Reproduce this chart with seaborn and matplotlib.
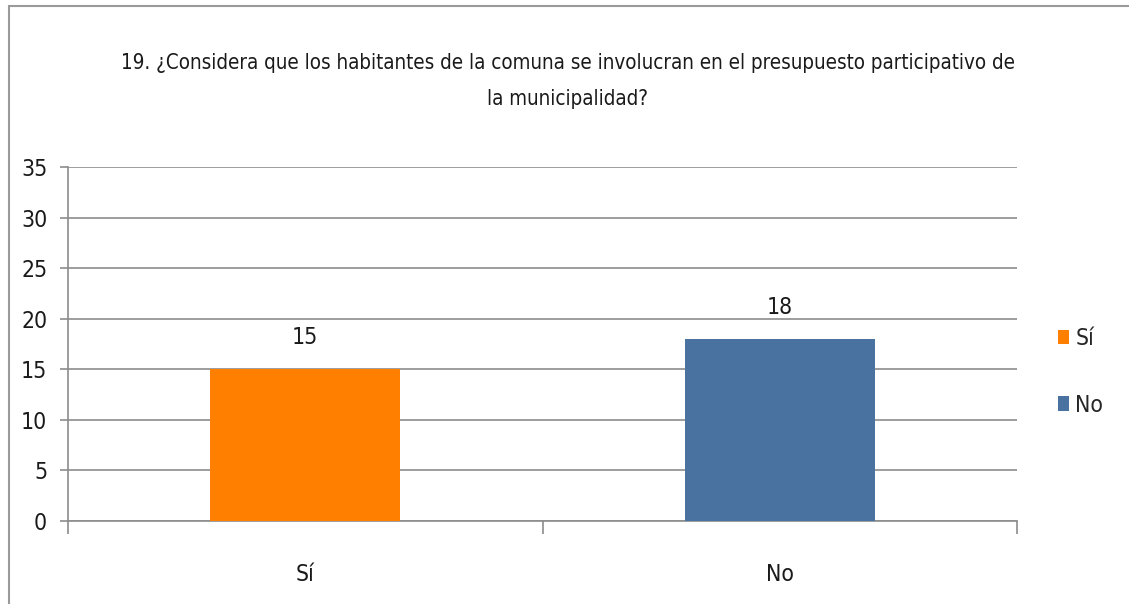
import matplotlib
matplotlib.use("Agg")
import matplotlib.pyplot as plt
import seaborn as sns
import pandas as pd
from matplotlib.patches import Patch, Rectangle

# data
categories = ["Sí", "No"]
counts = [15, 18]
bar_colors = ["#FF7F00", "#4A72A0"]
y_ticks = [0, 5, 10, 15, 20, 25, 30, 35]
title = ("19. ¿Considera que los habitantes de la comuna se involucran en el presupuesto participativo de\n"
         "la municipalidad?")

df = pd.DataFrame({"respuesta": categories, "cantidad": counts})

sns.set_style("white")
plt.rcParams["font.family"] = ["DejaVu Sans"]
plt.rcParams["font.stretch"] = "condensed"

fig = plt.figure(figsize=(11.29, 6.04), dpi=100)
ax = fig.add_axes([68 / 1129, 1 - 521 / 604, (1017 - 68) / 1129, (521 - 167) / 604])

sns.barplot(data=df, x="respuesta", y="cantidad", hue="respuesta",
            palette=bar_colors, width=0.4, legend=False, ax=ax, zorder=3,
            saturation=1, edgecolor="none", linewidth=0)

gray = "#8c8c8c"
ax.set_xlim(-0.5, len(categories) - 0.5)
ax.set_ylim(0, 35)
ax.set_yticks(y_ticks)
ax.grid(axis="y", color=gray, linewidth=1.2, zorder=0)
ax.set_axisbelow(True)
for s in ["top", "right"]:
    ax.spines[s].set_visible(False)
for s in ["left", "bottom"]:
    ax.spines[s].set_color(gray)
    ax.spines[s].set_linewidth(1.2)

ax.tick_params(axis="y", left=True, length=6, color=gray, width=1.2, labelsize=16.5,
               labelcolor="#1a1a1a", pad=9)
ax.tick_params(axis="x", which="major", bottom=True, length=0, labelsize=16.5,
               labelcolor="#1a1a1a", pad=30)
ax.set_xticks([-0.5, 0.5, 1.5], minor=True)
ax.tick_params(axis="x", which="minor", bottom=True, length=9, color=gray, width=1.2)
ax.set_xlabel("")
ax.set_ylabel("")

for i, v in enumerate(counts):
    ax.text(i, v + 2.0, str(v), ha="center", va="bottom", fontsize=16.5, color="#1a1a1a")

fig.text(0.503, 0.866, title, ha="center", va="center", fontsize=14.8,
         color="#1a1a1a", linespacing=2.05)

handles = [Patch(facecolor=c, edgecolor="none") for c in bar_colors]
fig.legend(handles, categories, loc="center left", bbox_to_anchor=(1058 / 1129, 1 - 372 / 604),
           frameon=False, fontsize=16.5, handlelength=0.5, handleheight=0.6,
           handletextpad=0.25, labelspacing=1.9, borderpad=0, borderaxespad=0)

# outer chart border
fig.add_artist(Rectangle((9 / 1129, -0.05), 1.2, 1 - 6 / 604 + 0.05, transform=fig.transFigure,
                         fill=False, edgecolor="#9a9a9a", linewidth=1.5))

fig.savefig("out.png", dpi=100)
